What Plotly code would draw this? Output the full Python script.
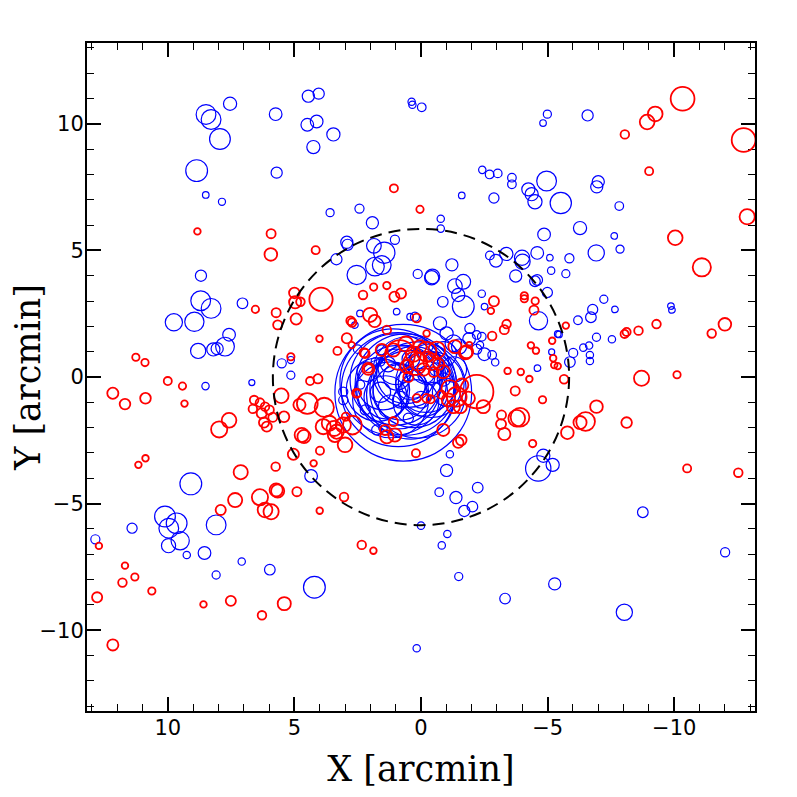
import plotly.graph_objects as go

# ---------------------------------------------------------------
# Sources around the cluster centre: offsets X, Y and circle radius
# (all in arcmin).  Blue and red populations kept separate.
# ---------------------------------------------------------------
blue_x = [
    8.49, 8.29, 7.54, 7.94, 8.86, 8.50, 7.86, 5.74, 5.70, 4.45, 4.04, 4.49, 4.12, 4.25, 3.46,
    0.37, 0.34, -0.03, 3.59, 2.43, 1.92, 1.03, 2.93, 2.90, 1.86, 1.45, 1.82, 1.55, 2.54, 3.34,
    0.13, -0.45, -0.42, 8.69, 8.70, 8.29, 7.05, 9.76, 8.95, 7.58, 7.74, 8.80, 8.20, 8.05, 5.50,
    5.14, 2.41, 2.61, 0.43,
    -4.99, -4.82, -6.58, -2.42, -2.71, -3.03, -3.59, -3.59, -4.24, -4.37, -4.50, -4.96, -5.52,
    -7.00, -6.94, -1.61, -2.88, -7.83, -0.78, -0.78, -7.63, -7.86, -6.28, -4.86, -6.92, -2.72,
    -2.96, -3.37, -3.99, -4.01, -4.59, -5.09, -5.86, -5.14, -5.72, -3.74, -1.22, -1.34, -1.67,
    -1.47, -1.67, -0.86, -4.59, -4.50, -4.99, -2.40, -2.51, -7.22, -7.66, -6.78, -6.71, -6.20,
    -4.64, -9.87, -9.91, -1.93, -5.40, -5.45, -6.93, -7.54, -6.41, -6.64, -6.01, -5.88, -6.67,
    -6.67, -5.16, -2.81, -2.93, -2.33, -4.60, -2.20, -2.40, -1.28, -1.01, -0.75,
    12.86, 11.41, 9.09, 10.11, 9.65, 9.96, 9.51, 9.97, 9.25, 8.55, 8.09, 8.51, 7.08, 8.09, 5.97,
    4.21, 6.68, 5.14, 4.34, 3.07, 3.07, 0.00, 0.17, 1.75, 1.50, 0.50,
    -1.14, -1.01, -0.72, -1.38, -2.24, -2.03, -1.71, -1.04, -0.82, -1.49, -3.32, -5.28, -8.03,
    -8.76, -12.01, -4.63, -4.83, -5.20,
    0.70, 0.90, 0.12, 0.60, 1.00, 0.30, 1.20, 0.50, -0.20, 0.80, 1.50, 0.20, -0.30, 1.00, 0.40,
    2.14, 0.96, 1.22, 0.30, -0.20, -0.60, -0.90, 0.00, 0.80, 1.60, -0.50, 0.40, 1.30, -0.90,
    -1.30, -1.00, 0.96, 0.24, -1.50, -1.90, -2.20, -2.50, 2.50, 2.20, 2.40, 1.55, 1.80, 1.60,
    1.10, 0.40, -0.40, 0.90, 1.70, -0.10, 0.60, 1.40,
]
blue_y = [
    10.37, 10.17, 10.79, 9.40, 8.15, 7.19, 6.92, 10.38, 8.07, 11.09, 11.19, 9.96, 10.09, 9.08, 9.58,
    10.87, 10.75, 10.65, 6.49, 6.65, 6.09, 5.42, 5.32, 5.22, 5.18, 4.91, 4.36, 4.42, 4.03, 4.65,
    4.07, 3.97, 3.92, 4.00, 3.01, 2.71, 2.91, 2.16, 2.18, 1.67, 1.20, 1.03, 1.09, 1.12, 0.54,
    0.67, 2.51, 2.05, 2.38,
    10.38, 10.03, 10.33, 8.18, 8.00, 8.04, 7.87, 7.61, 7.41, 7.22, 6.92, 7.74, 6.87,
    7.71, 7.51, 7.17, 7.07, 6.75, 6.25, 5.86, 5.57, 5.05, 5.88, 5.63, 4.90, 4.80,
    4.59, 4.86, 4.71, 4.55, 4.90, 4.71, 4.69, 4.20, 4.08, 3.99, 4.43, 3.59, 3.76,
    3.24, 2.78, 2.97, 3.83, 3.78, 3.34, 3.29, 2.78, 3.07, 2.67, 2.67, 2.36, 2.24,
    2.22, 2.80, 2.65, 1.92, 1.70, 1.68, 1.57, 1.49, 1.16, 1.24, 0.95, 0.59, 0.87,
    0.63, 0.99, 0.87, 0.58, 1.26, 0.35, 1.66, 1.59, 1.33, 1.72, 2.12,
    -6.41, -5.97, -4.22, -5.51, -5.78, -5.97, -6.47, -6.66, -7.03, -6.95, -5.84, -0.36, -7.29, -7.82, -7.61,
    -8.30, -0.22, 0.07, -3.91, -0.58, -0.91, -5.87, -10.71, -2.09, -2.00, -1.63,
    -3.05, -3.69, -4.55, -4.76, -4.37, -5.12, -5.29, -6.20, -6.65, -7.88, -8.75, -8.17, -9.29,
    -5.34, -6.92, -3.61, -3.11, -3.47,
    -0.62, -0.50, -0.51, -0.30, -0.10, -0.40, -0.90, 0.20, -0.20, -0.60, -0.30, -1.00, 0.50, 0.40, -0.30,
    0.21, 0.01, -1.17, -0.38, 0.10, 0.30, -0.10, -0.90, -0.90, -0.60, -0.50, 0.70, 0.50, 0.90,
    0.30, -0.60, 2.58, 2.38, 1.20, 1.50, 1.10, 0.90, 1.10, -1.30, -0.30, 1.07, 0.60, 0.60,
    -0.20, -0.70, -0.30, -0.40, -0.50, -0.60, 0.10, -0.80,
]
blue_r = [
    0.39, 0.39, 0.26, 0.41, 0.43, 0.13, 0.14, 0.25, 0.22, 0.24, 0.22, 0.25, 0.25, 0.26, 0.26,
    0.145, 0.145, 0.17, 0.16, 0.18, 0.24, 0.18, 0.24, 0.22, 0.29, 0.42, 0.37, 0.37, 0.38, 0.22,
    0.18, 0.29, 0.28, 0.22, 0.39, 0.39, 0.21, 0.34, 0.38, 0.25, 0.37, 0.30, 0.26, 0.24, 0.18,
    0.14, 0.13, 0.13, 0.13,
    0.16, 0.13, 0.22, 0.145, 0.17, 0.17, 0.17, 0.17, 0.26, 0.26, 0.28, 0.39, 0.42,
    0.24, 0.24, 0.13, 0.20, 0.17, 0.145, 0.145, 0.13, 0.16, 0.26, 0.25, 0.32, 0.17,
    0.25, 0.26, 0.30, 0.30, 0.25, 0.13, 0.18, 0.145, 0.16, 0.24, 0.24, 0.29, 0.29,
    0.26, 0.43, 0.21, 0.21, 0.21, 0.20, 0.145, 0.13, 0.16, 0.13, 0.20, 0.21, 0.17,
    0.36, 0.13, 0.13, 0.20, 0.13, 0.13, 0.16, 0.145, 0.145, 0.145, 0.18, 0.21, 0.145,
    0.145, 0.12, 0.17, 0.145, 0.145, 0.13, 0.17, 0.17, 0.33, 0.26, 0.26,
    0.18, 0.20, 0.43, 0.41, 0.41, 0.39, 0.36, 0.28, 0.145, 0.25, 0.39, 0.145, 0.145, 0.16, 0.21,
    0.43, 0.12, 0.16, 0.25, 0.18, 0.18, 0.145, 0.145, 0.20, 0.17, 0.20,
    0.145, 0.24, 0.17, 0.24, 0.21, 0.21, 0.22, 0.145, 0.145, 0.16, 0.21, 0.24, 0.32,
    0.21, 0.18, 0.50, 0.26, 0.26,
    2.70, 2.25, 1.90, 2.00, 1.80, 1.60, 1.50, 1.40, 1.20, 1.10, 1.00, 0.90, 0.80, 0.70, 0.60,
    0.39, 0.53, 0.46, 0.46, 0.33, 0.26, 0.26, 0.33, 0.33, 0.40, 0.30, 0.35, 0.30, 0.50,
    0.50, 0.55, 0.13, 0.18, 0.30, 0.25, 0.20, 0.25, 0.17, 0.20, 0.18, 0.20, 0.17, 0.17,
    2.10, 1.75, 1.30, 1.65, 1.25, 0.95, 1.15, 0.85,
]

red_x = [
    1.07, 0.04, 8.83, 5.92, 5.93, 4.16, 3.95, 5.00, 4.97, 4.76, 6.54, 5.72, 5.66, 4.93, 4.01,
    5.14, 2.29, 1.87, 1.35, 1.05, 0.79, 2.01, 1.83, 2.78, 2.72, 1.35, 2.93, 2.74, 3.30, 2.25,
    0.17, -0.22, 11.26, 10.90,
    -10.33, -9.25, -8.93, -8.05, -12.74, -9.01, -12.88, -10.04, -11.09, -2.88, -2.76, -4.08,
    -4.08, -4.51, -4.46, -3.38, -3.29, -2.81, -5.72, -5.18, -8.04, -8.12, -8.59, -9.30, -11.48,
    -12.00, -4.34, -4.54, -5.22, -5.26, -1.91, -1.76,
    12.17, 11.69, 10.88, 10.00, 9.42, 9.34, 11.16, 10.88, 7.97, 7.58, 7.12, 5.74,
    6.59, 6.36, 6.16, 6.64, 6.29, 5.99, 6.20, 6.09, 5.85,
    5.52, 5.41, 4.38, 4.07, 4.49, 4.80, 3.82, 4.71, 4.62, 3.99, 5.04, 4.24,
    3.86, 3.62, 3.43, 3.33, 3.07, 3.00, 2.71, 3.40, 2.97,
    4.90, 4.00, 3.04, 7.34, 7.91, 6.36, 6.16, 5.92, 5.72, 5.66, 2.34, 1.88, 12.72, 11.69, 11.79,
    11.30, 10.63, 12.79, 8.59, 7.51, 6.28, 5.40, 12.17, 0.20, 1.09, 1.35, 1.03, 1.42, 2.51, 2.08,
    -8.71, -10.11, -8.12, -10.51, -12.53, -3.42, -3.94, -4.28, -3.72, -4.80, -5.65, -5.40,
    -6.93, -6.50, -6.28, -5.78, -4.41, -3.18, -3.16, -3.29, -3.78, -3.91, -2.46, -0.88, -1.47,
    -1.59, -2.20,
    0.83, 0.24, -0.22, -0.62, -0.88, 0.04, 0.56, -0.42, -1.34, -1.80, 1.09, 1.55, 2.21, 2.08,
    2.54, -1.14, -1.41, -1.08, -1.28, -1.55, -1.61, -1.87, 0.17, -0.22, -0.38, -0.81,
    0.30, -0.10, 0.50, -0.50, -0.30, 0.10, -0.70, 0.60,
]
red_y = [
    7.45, 6.62, 5.75, 5.66, 4.84, 5.01, 3.07, 3.32, 2.95, 2.97, 2.67, 2.54, 2.06, 2.29, 1.51,
    0.80, 3.24, 3.55, 3.61, 3.17, 3.30, 2.45, 2.21, 2.22, 2.15, 1.86, 1.53, 1.26, 1.03, 0.96,
    2.33, 1.72, 0.78, 0.57,
    10.99, 10.39, 10.07, 9.58, 9.36, 8.13, 6.33, 5.50, 4.33, 2.99, 2.61, 3.21,
    3.09, 3.00, 2.64, 2.09, 1.87, 1.62, 2.03, 1.43, 1.70, 1.78, 1.83, 2.09, 1.72,
    2.08, 1.25, 1.04, 0.74, 0.47, 1.27, 0.96,
    -0.64, -1.07, -0.84, -0.16, -0.36, -1.05, -3.47, -3.21, -2.07, -1.71, -3.76, -3.54,
    -0.91, -1.01, -1.17, -1.26, -1.43, -1.30, -1.80, -1.96, -1.59,
    -0.74, -1.57, -0.16, -0.07, -1.05, -1.10, -1.20, -2.29, -2.35, -2.91, -3.05, -3.41,
    -1.96, -1.83, -2.03, -2.16, -1.90, -2.68, -1.90, -2.29, -1.57,
    -4.53, -5.28, -4.74, -4.86, -5.25, -4.75, -5.25, -5.32, -4.46, -4.50, -6.63, -6.86, -6.67, -7.45, -8.12,
    -7.90, -8.45, -8.70, -8.98, -8.84, -9.41, -8.95, -10.58, -3.01, -1.76, -2.36, -2.29, -2.09, -0.64, 0.32,
    -0.05, 0.09, -1.80, -3.61, -3.78, 0.24, 0.20, -0.08, -0.55, -0.90, -0.09, 0.43,
    -1.17, -1.76, -1.80, -2.20, -2.63, -1.50, -1.86, -2.25, -1.63, -1.59, -1.17, -2.09, -2.59,
    -2.49, -0.58,
    0.87, 0.54, 1.00, 1.07, 0.21, 1.20, 0.41, 0.60, 1.20, 1.00, 1.07, 1.07, 0.93, 0.34,
    -0.64, -0.45, -0.78, -0.91, -1.17, -1.17, -0.32, -0.84, -0.84, -0.84, -0.88, -0.70,
    0.90, 0.30, 0.00, 0.20, 0.80, 0.60, 0.50, 1.30,
]
red_r = [
    0.16, 0.145, 0.13, 0.18, 0.25, 0.16, 0.46, 0.21, 0.24, 0.17, 0.145, 0.18, 0.18, 0.22, 0.13,
    0.145, 0.17, 0.145, 0.145, 0.20, 0.20, 0.28, 0.24, 0.17, 0.17, 0.17, 0.20, 0.13, 0.16, 0.18,
    0.17, 0.13, 0.145, 0.145,
    0.47, 0.29, 0.29, 0.17, 0.47, 0.16, 0.30, 0.29, 0.36, 0.20, 0.13, 0.145,
    0.145, 0.145, 0.18, 0.17, 0.18, 0.17, 0.13, 0.13, 0.16, 0.16, 0.17, 0.17, 0.17,
    0.25, 0.13, 0.13, 0.13, 0.13, 0.12, 0.26,
    0.22, 0.21, 0.21, 0.16, 0.145, 0.13, 0.13, 0.13, 0.32, 0.29, 0.28, 0.17,
    0.17, 0.17, 0.17, 0.17, 0.20, 0.18, 0.20, 0.20, 0.18,
    0.29, 0.21, 0.16, 0.18, 0.41, 0.24, 0.38, 0.28, 0.26, 0.16, 0.22, 0.13,
    0.30, 0.30, 0.30, 0.28, 0.30, 0.29, 0.37, 0.28, 0.16,
    0.18, 0.13, 0.17, 0.28, 0.20, 0.32, 0.29, 0.30, 0.26, 0.26, 0.17, 0.13, 0.13, 0.13, 0.17,
    0.145, 0.145, 0.20, 0.13, 0.20, 0.17, 0.26, 0.22, 0.16, 0.18, 0.26, 0.26, 0.20, 0.145, 0.24,
    0.30, 0.145, 0.21, 0.16, 0.17, 0.13, 0.13, 0.13, 0.18, 0.145, 0.17, 0.13,
    0.25, 0.37, 0.26, 0.25, 0.145, 0.18, 0.20, 0.24, 0.33, 0.37, 0.26, 0.24, 0.21,
    0.21, 0.66,
    0.59, 0.46, 0.39, 0.33, 0.26, 0.26, 0.26, 0.33, 0.26, 0.26, 0.26, 0.24, 0.18, 0.17,
    0.18, 0.33, 0.39, 0.26, 0.26, 0.26, 0.26, 0.26, 0.16, 0.17, 0.16, 0.16,
    0.30, 0.25, 0.20, 0.20, 0.20, 0.35, 0.22, 0.30,
]

ring_radius = 5.85   # dashed circle, arcmin
axis_lim = 13.19

fig = go.Figure()

# centres (invisible, just for hover)
fig.add_trace(go.Scatter(x=blue_x, y=blue_y, mode="markers",
                         marker=dict(color="blue", opacity=0), showlegend=False))
fig.add_trace(go.Scatter(x=red_x, y=red_y, mode="markers",
                         marker=dict(color="red", opacity=0), showlegend=False))

shapes = []
for x, y, r in zip(blue_x, blue_y, blue_r):
    shapes.append(dict(type="circle", xref="x", yref="y",
                       x0=x - r, x1=x + r, y0=y - r, y1=y + r,
                       line=dict(color="#0000FF", width=1.2)))
for x, y, r in zip(red_x, red_y, red_r):
    shapes.append(dict(type="circle", xref="x", yref="y",
                       x0=x - r, x1=x + r, y0=y - r, y1=y + r,
                       line=dict(color="#FF0000", width=1.8)))
shapes.append(dict(type="circle", xref="x", yref="y",
                   x0=-ring_radius, x1=ring_radius, y0=-ring_radius, y1=ring_radius,
                   line=dict(color="black", width=2, dash="12px,7px")))

axis_common = dict(
    showgrid=False, zeroline=False, automargin=False,
    showline=True, linecolor="black", linewidth=2, mirror="allticks",
    ticks="inside", ticklen=14, tickwidth=1.6, tickcolor="black",
    dtick=5, tick0=0,
    minor=dict(dtick=1, tick0=0, ticks="inside", ticklen=7, tickwidth=1.3, tickcolor="black"),
    tickfont=dict(family="DejaVu Sans", size=21, color="black"),
    ticklabelstandoff=-3,
)

# page body has an 8px margin, so the figure is a bit smaller than the window
fig.update_layout(
    width=781, height=781,
    margin=dict(l=79, r=34, t=35, b=78),
    paper_bgcolor="white", plot_bgcolor="white",
    shapes=shapes,
    xaxis=dict(range=[axis_lim, -axis_lim],
               title=dict(text="X [arcmin]", standoff=19,
                          font=dict(family="DejaVu Serif", size=35, color="black")),
               **axis_common),
    yaxis=dict(range=[-axis_lim, axis_lim],
               title=dict(text="Y [arcmin]", standoff=12,
                          font=dict(family="DejaVu Serif", size=35, color="black")),
               **axis_common),
)

fig.write_html("out.html")
